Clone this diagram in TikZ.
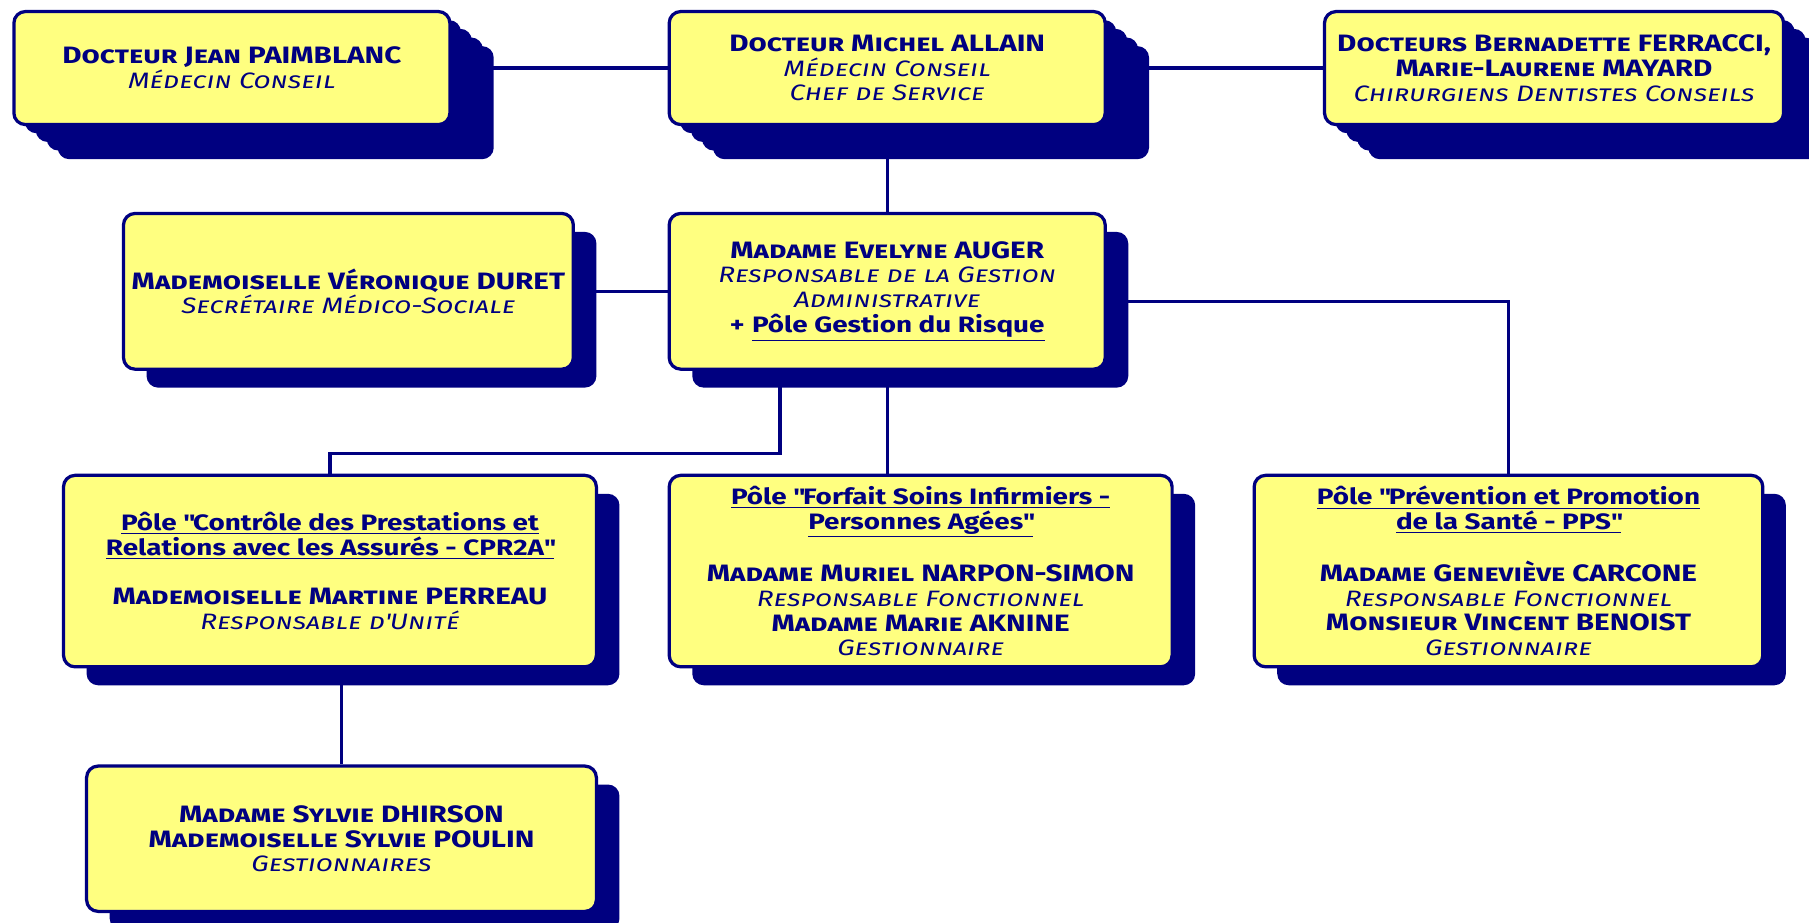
\documentclass[tikz,border=0pt]{standalone}
\usepackage{fontspec}
\setmainfont{Fira Sans}[FakeStretch=1.25]
\usetikzlibrary{shadows,backgrounds}
\definecolor{navy}{RGB}{0,0,128}
\definecolor{paleyellow}{RGB}{255,255,128}

\newcommand{\nom}[1]{{\fontsize{11.7}{12.2}\selectfont\bfseries\scshape #1}}
\newcommand{\fonction}[1]{{\itshape\scshape #1}}
\newcommand{\pole}[1]{\underline{\bfseries #1}}

\begin{document}
\begin{tikzpicture}[x=0.02cm, y=-0.02cm,
	carte/.style={draw=navy, line width=1.6pt, fill=paleyellow, rounded corners=0.2cm,
		text=navy, align=center, inner sep=0pt, font=\fontsize{11}{12.2}\selectfont},
	ombre/.style={drop shadow={shadow xshift=0.4cm, shadow yshift=-0.32cm, fill=navy, opacity=1}},
	pile/.style={drop shadow={shadow xshift=0.76cm, shadow yshift=-0.6cm, fill=navy, opacity=1},
		drop shadow={shadow xshift=0.57cm, shadow yshift=-0.45cm, fill=navy, opacity=1},
		drop shadow={shadow xshift=0.38cm, shadow yshift=-0.3cm, fill=navy, opacity=1},
		drop shadow={shadow xshift=0.19cm, shadow yshift=-0.15cm, fill=navy, opacity=1}},
	lien/.style={draw=navy, line width=1.6pt}]
	\useasboundingbox (0,0) rectangle (1568,800);
	
	% Medecins conseils
	\node[carte, pile, minimum width=7.56cm, minimum height=1.96cm] (paimblanc) at (201,59)
		{\nom{Docteur Jean PAIMBLANC}\\ \fonction{Médecin Conseil}};
	\node[carte, pile, minimum width=7.56cm, minimum height=1.96cm] (allain) at (769,59)
		{\nom{Docteur Michel ALLAIN}\\ \fonction{Médecin Conseil}\\ \fonction{Chef de Service}};
	\node[carte, pile, minimum width=7.96cm, minimum height=1.96cm] (ferracci) at (1347,59)
		{\nom{Docteurs Bernadette FERRACCI,}\\ \nom{Marie-Laurene MAYARD}\\ \fonction{Chirurgiens Dentistes Conseils}};
	
	% Gestion administrative
	\node[carte, ombre, minimum width=7.8cm, minimum height=2.7cm] (duret) at (302,252.5)
		{\nom{Mademoiselle Véronique DURET}\\ \fonction{Secrétaire Médico-Sociale}};
	\node[carte, ombre, minimum width=7.56cm, minimum height=2.7cm] (auger) at (769,252.5)
		{\nom{Madame Evelyne AUGER}\\ \fonction{Responsable de la Gestion}\\ \fonction{Administrative}\\
		{\bfseries +} \pole{Pôle Gestion du Risque}};
	
	% Poles
	\node[carte, ombre, minimum width=9.24cm, minimum height=3.32cm] (cpr) at (286,495)
		{\pole{Pôle \textquotedbl Contrôle des Prestations et}\\ \pole{Relations avec les Assurés - CPR2A\textquotedbl}\\[12.2pt]
		\nom{Mademoiselle Martine PERREAU}\\ \fonction{Responsable d\textquotesingle Unité}};
	\node[carte, ombre, minimum width=8.72cm, minimum height=3.32cm] (fsi) at (798,495)
		{\pole{Pôle \textquotedbl Forfait Soins Infirmiers -}\\ \pole{Personnes Agées\textquotedbl}\\[12.2pt]
		\nom{Madame Muriel NARPON-SIMON}\\ \fonction{Responsable Fonctionnel}\\
		\nom{Madame Marie AKNINE}\\ \fonction{Gestionnaire}};
	\node[carte, ombre, minimum width=8.82cm, minimum height=3.32cm] (pps) at (1307.5,495)
		{\pole{Pôle \textquotedbl Prévention et Promotion}\\ \pole{de la Santé - PPS\textquotedbl}\\[12.2pt]
		\nom{Madame Geneviève CARCONE}\\ \fonction{Responsable Fonctionnel}\\
		\nom{Monsieur Vincent BENOIST}\\ \fonction{Gestionnaire}};
	
	% Gestionnaires CPR2A
	\node[carte, ombre, minimum width=8.84cm, minimum height=2.52cm] (dhirson) at (296,727)
		{\nom{Madame Sylvie DHIRSON}\\ \nom{Mademoiselle Sylvie POULIN}\\ \fonction{Gestionnaires}};
	
	\coordinate (coude) at (676,393);
	
	% Liaisons
	\begin{scope}[on background layer]
		\draw[lien] (paimblanc) -- (allain) -- (ferracci);
		\draw[lien] (allain) -- (auger);
		\draw[lien] (duret) -- (auger);
		\draw[lien] ([yshift=-0.18cm]auger.east) -| (pps.north);
		\draw[lien] (auger.south) -- (auger.south |- fsi.north);
		\draw[lien] (auger.south -| coude) -- (coude) -| (cpr.north);
		\draw[lien] (cpr.south -| dhirson.north) -- (dhirson.north);
	\end{scope}
\end{tikzpicture}
\end{document}
